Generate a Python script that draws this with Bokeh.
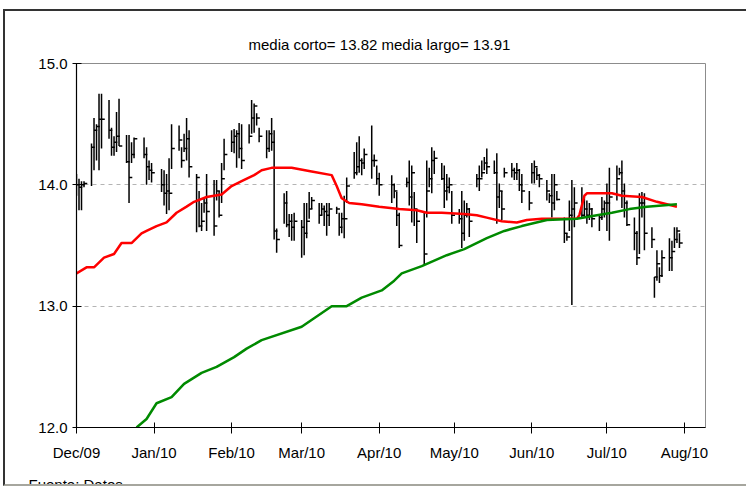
import pandas as pd
import numpy as np
from bokeh.plotting import figure
from bokeh.layouts import column
from bokeh.models import Range1d, FixedTicker, Title
from bokeh.embed import file_html
from bokeh.resources import INLINE

# ---------------- data ----------------
holidays = ["2009-12-25", "2010-01-01", "2010-04-02", "2010-04-05"]
trade_days = pd.bdate_range("2009-12-01", "2010-07-30")
trade_days = trade_days[~trade_days.isin(pd.to_datetime(holidays))]

highs = [
    # Dec
    14.09, 14.05, 14.03, 14.03, 14.34, 14.55, 14.50, 14.75, 14.75, 14.70, 14.47, 14.40, 14.60, 14.71, 14.41, 14.41, 14.35, 14.39, 14.39, 14.31, 14.20, 14.18,
    # Jan
    14.13, 14.12, 14.09, 14.22, 14.50, 14.49, 14.31, 14.42, 14.55, 14.45, 14.09, 13.95, 13.85, 13.90, 14.09, 14.04, 14.04, 13.95, 14.18, 14.38,
    # Feb
    14.45, 14.46, 14.45, 14.51, 14.50, 14.50, 14.70, 14.67, 14.59, 14.47, 14.45, 14.45, 14.55, 14.45, 13.64, 13.93, 13.95, 13.76, 13.76, 13.77,
    # Mar
    13.71, 13.85, 13.85, 13.94, 13.90, 13.85, 13.85, 13.83, 13.85, 13.85, 13.82, 13.77, 13.77, 13.91, 14.06, 14.27, 14.35, 14.40, 14.22, 14.30, 14.49, 14.25, 14.16,
    # Apr
    14.10, 14.08, 14.01, 13.94, 13.77, 14.06, 14.20, 14.16, 13.94, 13.80, 13.77, 14.20, 14.14, 14.31, 14.28, 14.18, 14.16, 14.09, 14.06, 13.95,
    # May
    13.80, 13.95, 13.87, 13.85, 13.81, 14.09, 14.16, 14.20, 14.23, 14.30, 14.20, 14.26, 14.01, 13.95, 14.14, 14.18, 14.14, 14.18, 14.13, 14.09, 13.95,
    # Jun
    14.18, 14.20, 14.14, 14.09, 14.04, 13.93, 14.09, 14.09, 13.95, 13.73, 13.60, 13.87, 14.04, 13.98, 13.98, 13.90, 13.87, 13.85, 13.81, 13.76, 13.90, 13.87,
    # Jul
    14.01, 14.14, 14.16, 14.14, 14.20, 14.01, 13.87, 13.73, 13.62, 13.93, 13.94, 13.93, 13.65, 13.24, 13.46, 13.32, 13.46, 13.56, 13.54, 13.65, 13.65, 13.60,
]
lows = [
    13.91, 13.79, 13.79, 13.98, 13.99, 14.12, 14.20, 14.12, 14.30, 14.38, 14.24, 14.24, 14.27, 14.32, 14.18, 13.85, 14.18, 14.22, 14.22, 14.00, 14.04, 14.02,
    13.94, 13.83, 13.76, 13.79, 14.13, 14.28, 14.14, 14.27, 14.20, 14.06, 13.61, 13.65, 13.62, 13.77, 13.62, 13.58, 13.87, 13.73, 13.85, 14.12,
    14.27, 14.26, 14.14, 14.22, 14.13, 14.34, 14.42, 14.43, 14.49, 14.35, 14.22, 14.27, 14.28, 13.55, 13.44, 13.68, 13.65, 13.57, 13.54, 13.54,
    13.40, 13.42, 13.56, 13.72, 13.80, 13.68, 13.75, 13.66, 13.58, 13.66, 13.76, 13.58, 13.60, 13.56, 13.85, 14.05, 14.08, 14.10, 14.08, 14.13, 14.05, 14.15, 14.00,
    13.91, 13.85, 13.89, 13.66, 13.48, 13.98, 13.83, 13.69, 13.66, 13.52, 13.34, 13.73, 13.98, 13.93, 14.09, 14.04, 13.81, 13.87, 13.93, 13.68,
    13.68, 13.48, 13.54, 13.73, 13.57, 13.98, 13.95, 14.06, 14.12, 14.09, 14.09, 13.68, 13.81, 13.71, 14.06, 14.06, 14.04, 14.04, 13.95, 13.85, 13.79,
    14.01, 14.01, 14.04, 13.98, 13.87, 13.85, 13.73, 13.79, 13.87, 13.52, 13.54, 13.62, 13.01, 13.65, 13.73, 13.73, 13.68, 13.71, 13.65, 13.62, 13.71, 13.73,
    13.62, 13.54, 13.87, 14.08, 13.81, 13.73, 13.66, 13.46, 13.34, 13.43, 13.73, 13.46, 13.48, 13.07, 13.21, 13.19, 13.24, 13.29, 13.29, 13.48, 13.52, 13.48,
]
closes = [
    14.00, 13.98, 14.00, 14.01, 14.31, 14.45, 14.48, 14.54, 14.54, 14.45, 14.31, 14.35, 14.40, 14.32, 14.19, 14.06, 14.25, 14.38, 14.25, 14.15, 14.12, 14.10,
    14.00, 13.93, 13.95, 13.93, 14.30, 14.37, 14.20, 14.30, 14.38, 14.15, 14.06, 13.66, 13.70, 13.85, 13.78, 13.66, 13.95, 13.75, 14.05, 14.25,
    14.35, 14.40, 14.42, 14.30, 14.20, 14.40, 14.55, 14.65, 14.55, 14.40, 14.30, 14.42, 14.35, 13.62, 13.55, 13.85, 13.67, 13.70, 13.65, 13.70,
    13.65, 13.60, 13.70, 13.80, 13.87, 13.75, 13.80, 13.78, 13.75, 13.80, 13.80, 13.65, 13.72, 13.72, 13.99, 14.10, 14.15, 14.20, 14.18, 14.25, 14.20, 14.20, 14.05,
    14.00, 14.00, 13.95, 13.75, 13.50, 14.02, 13.90, 14.10, 13.80, 13.70, 13.43, 13.95, 14.05, 14.20, 14.22, 14.05, 13.95, 13.98, 14.00, 13.75,
    13.72, 13.60, 13.75, 13.80, 13.70, 14.05, 14.05, 14.10, 14.18, 14.15, 14.10, 13.90, 13.95, 13.80, 14.10, 14.12, 14.10, 14.12, 14.00, 13.95, 13.85,
    14.10, 14.15, 14.08, 14.05, 13.95, 13.91, 13.85, 14.00, 13.88, 13.60, 13.57, 13.75, 13.80, 13.85, 13.75, 13.80, 13.75, 13.80, 13.72, 13.73, 13.80, 13.85,
    13.85, 13.90, 14.05, 14.10, 13.95, 13.85, 13.67, 13.60, 13.40, 13.85, 13.85, 13.60, 13.55, 13.24, 13.35, 13.25, 13.40, 13.40, 13.45, 13.55, 13.62, 13.52,
]

short_ma_dates = [
    "2009-12-01", "2009-12-05", "2009-12-08", "2009-12-12", "2009-12-16", "2009-12-19", "2009-12-23",
    "2009-12-27", "2009-12-29", "2010-01-02", "2010-01-06", "2010-01-10", "2010-01-14", "2010-01-17",
    "2010-01-22", "2010-01-28", "2010-02-01", "2010-02-05", "2010-02-10", "2010-02-13", "2010-02-17",
    "2010-02-25", "2010-03-05", "2010-03-13", "2010-03-15", "2010-03-17", "2010-03-20", "2010-03-25",
    "2010-04-01", "2010-04-09", "2010-04-16", "2010-04-20", "2010-04-26", "2010-05-05", "2010-05-10",
    "2010-05-14", "2010-05-20", "2010-05-26", "2010-05-30", "2010-06-05", "2010-06-19", "2010-06-20",
    "2010-06-22", "2010-06-23", "2010-07-03", "2010-07-07", "2010-07-15", "2010-07-21", "2010-07-23",
    "2010-07-29",
]
short_ma = [
    13.27, 13.32, 13.32, 13.40, 13.43, 13.52, 13.52,
    13.60, 13.62, 13.66, 13.69, 13.77, 13.82, 13.86,
    13.90, 13.92, 13.99, 14.03, 14.08, 14.12, 14.14,
    14.14, 14.11, 14.08, 13.99, 13.89, 13.85, 13.84,
    13.82, 13.80, 13.79, 13.77, 13.77, 13.76, 13.75,
    13.73, 13.70, 13.69, 13.71, 13.72, 13.72, 13.75,
    13.91, 13.93, 13.93, 13.91, 13.90, 13.86, 13.85,
    13.82,
]

long_ma_dates = [
    "2009-12-25", "2009-12-29", "2010-01-02", "2010-01-08", "2010-01-13", "2010-01-20", "2010-01-26",
    "2010-02-02", "2010-02-07", "2010-02-13", "2010-03-01", "2010-03-13", "2010-03-19", "2010-03-25",
    "2010-04-02", "2010-04-07", "2010-04-10", "2010-04-18", "2010-04-28", "2010-05-05", "2010-05-14",
    "2010-05-21", "2010-05-28", "2010-06-07", "2010-06-19", "2010-06-27", "2010-07-03", "2010-07-10",
    "2010-07-17", "2010-07-23", "2010-07-29",
]
long_ma = [
    12.00, 12.07, 12.20, 12.25, 12.36, 12.45, 12.50,
    12.58, 12.65, 12.72, 12.83, 13.00, 13.00, 13.07,
    13.13, 13.21, 13.27, 13.33, 13.42, 13.47, 13.56,
    13.62, 13.66, 13.71, 13.72, 13.75, 13.77, 13.80,
    13.82, 13.83, 13.84,
]

media_corto = 13.82
media_largo = 13.91

month_ticks = ["2009-12-01", "2010-01-01", "2010-02-01", "2010-03-01", "2010-04-01",
               "2010-05-01", "2010-06-01", "2010-07-01", "2010-08-01"]
month_labels = ["Dec/09", "Jan/10", "Feb/10", "Mar/10", "Apr/10", "May/10", "Jun/10", "Jul/10", "Aug/10"]
y_ticks = [12, 13, 14, 15]
y_labels = ["12.0", "13.0", "14.0", "15.0"]
source_note = "Fuente: Datos"


def to_ms(dates):
    idx = pd.to_datetime(dates)
    return ((idx - pd.Timestamp("1970-01-01")) / pd.Timedelta(milliseconds=1)).to_numpy(dtype=float)


DAY = 86400000.0
xs = to_ms(trade_days)
tick_ms = to_ms(month_ticks)

FONT = "Liberation Sans"
OX, OY = 5, 11                     # page position of the canvas
W, H = 746 - OX, 503 - OY
FL, FR, FT, FB = 76 - OX, 705 - OX, 63 - OY, 427 - OY   # frame edges on the canvas
VISIBLE_H = 488 - OY               # the panel is cut off at page y = 488

p = figure(width=W, height=H, output_backend="svg", toolbar_location=None,
           x_range=Range1d(to_ms(["2009-12-01"])[0], to_ms(["2010-08-09 10:00"])[0]),
           y_range=Range1d(12, 15),
           min_border_left=FL, min_border_right=W - FR, min_border_top=FT, min_border_bottom=H - FB)
p.background_fill_color = "white"
p.border_fill_color = "white"
p.outline_line_color = "#8c8c8c"
p.outline_line_width = 1

# grid
p.xgrid.visible = False
p.ygrid.ticker = FixedTicker(ticks=y_ticks)
p.ygrid.grid_line_color = "#b4b4b4"
p.ygrid.grid_line_dash = "4 4"
p.ygrid.grid_line_width = 1

# axes
p.xaxis.ticker = FixedTicker(ticks=list(tick_ms))
p.xaxis.major_label_overrides = {float(t): lab for t, lab in zip(tick_ms, month_labels)}
p.yaxis.ticker = FixedTicker(ticks=y_ticks)
p.yaxis.major_label_overrides = {t: lab for t, lab in zip(y_ticks, y_labels)}
for ax in (p.xaxis, p.yaxis):
    ax.axis_line_color = "black"
    ax.axis_line_width = 1.2
    ax.major_tick_line_color = "black"
    ax.major_tick_line_width = 1
    ax.minor_tick_line_color = None
    ax.major_label_text_font = FONT
    ax.major_label_text_font_size = "15px"
    ax.major_label_text_color = "black"
p.xaxis.major_tick_in = 5
p.xaxis.major_tick_out = 6
p.xaxis.major_label_standoff = 10
p.yaxis.major_tick_in = 5
p.yaxis.major_tick_out = 4
p.yaxis.major_label_standoff = 5

# title
p.title.text = f"media corto= {media_corto:.2f} media largo= {media_largo:.2f}"
p.title.align = "left"
p.title.offset = 172
p.title.text_font = FONT
p.title.text_font_size = "15px"
p.title.text_font_style = "normal"
p.title.text_color = "black"
p.title.standoff = 21

# source note below the axis (its lower half falls under the panel edge)
p.add_layout(Title(text=source_note, align="left", offset=28 - 76, standoff=20,
                   text_font=FONT, text_font_size="15px", text_font_style="normal",
                   text_color="black"), "below")

# HLC bars
p.segment(x0=xs, y0=lows, x1=xs, y1=highs, line_color="black", line_width=1.5)
p.segment(x0=xs, y0=closes, x1=xs + 1.3 * DAY, y1=closes, line_color="black", line_width=1.5)

# moving averages
p.line(to_ms(short_ma_dates), short_ma, line_color="#ff0000", line_width=2.5)
p.line(to_ms(long_ma_dates), long_ma, line_color="#008a00", line_width=2.5)

# the chart panel: dark left/top edges, cut off at the bottom by a grey rule
panel = column(p, margin=(9, 0, 0, 3))
panel.styles = {"border-left": "2px solid #333333", "border-top": "2px solid #333333",
                "border-bottom": "2px solid #a6a69e",
                "max-height": f"{VISIBLE_H}px", "overflow": "hidden"}

open("out.html", "w").write(file_html(panel, INLINE))
